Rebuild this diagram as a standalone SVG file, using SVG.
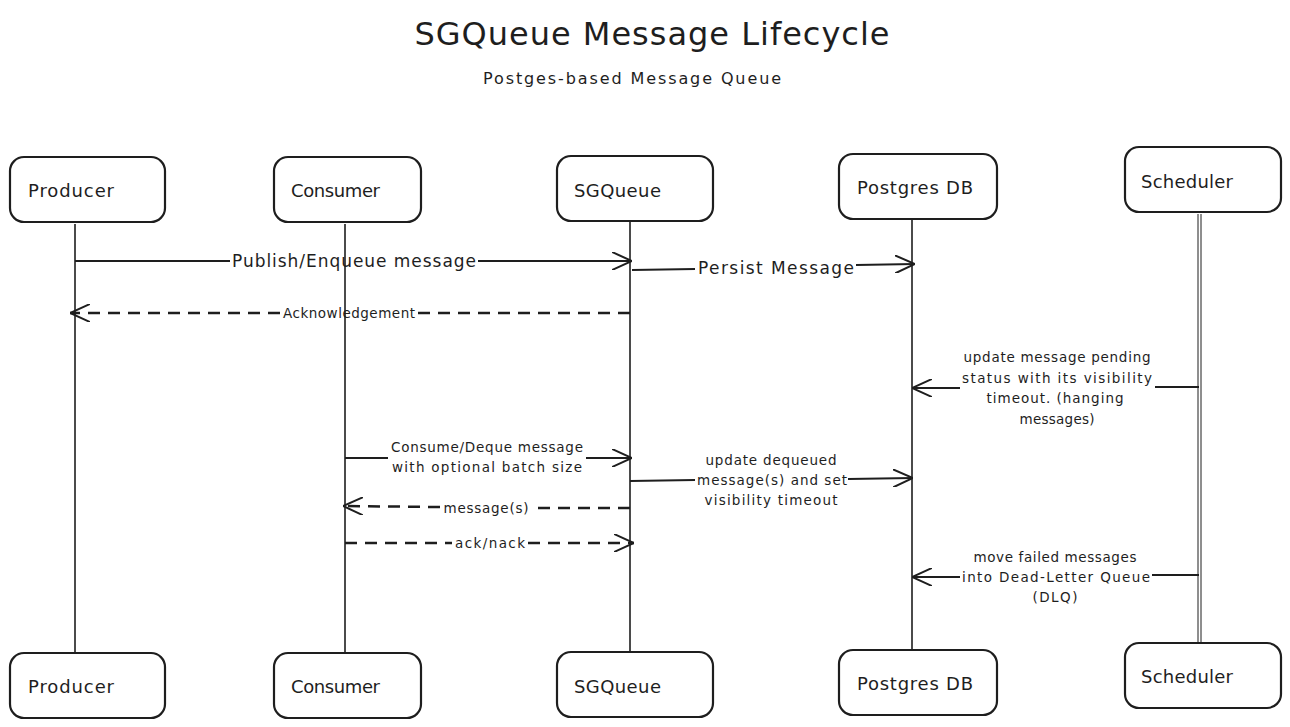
<svg xmlns="http://www.w3.org/2000/svg" width="1290" height="727" viewBox="0 0 1290 727">
<style>
.box{fill:#ffffff;stroke:#1e1e1e;stroke-width:2.2}
.life{stroke:#1e1e1e;stroke-width:1.6;fill:none}
.msg{stroke:#1e1e1e;stroke-width:2;fill:none}
.dash{stroke:#1e1e1e;stroke-width:2.5;fill:none;stroke-dasharray:12 8}
text{font-family:"DejaVu Sans","Liberation Sans",sans-serif;fill:#1e1e1e}
.nl{font-size:18px}
.lb{font-size:17px;text-anchor:middle}
.sm{font-size:13.5px;text-anchor:middle}
</style>
<defs>
<marker id="arr" viewBox="0 0 20 18" refX="20" refY="9" markerWidth="20" markerHeight="18" markerUnits="userSpaceOnUse" orient="auto">
<path d="M0,0 L20,9 L0,18" fill="none" stroke="#1e1e1e" stroke-width="2" stroke-dasharray="none" stroke-linecap="round"/>
</marker>
</defs>
<rect width="1290" height="727" fill="#ffffff"/>
<text x="652" y="45" font-size="32" text-anchor="middle" textLength="475">SGQueue Message Lifecycle</text>
<text x="632" y="84" font-size="16" text-anchor="middle" textLength="298">Postges-based Message Queue</text>

<g id="lifelines">
<line class="life" x1="75" y1="224" x2="75" y2="652"/>
<line class="life" x1="345" y1="224" x2="345" y2="652"/>
<line class="life" x1="630" y1="222" x2="630" y2="651"/>
<line class="life" x1="912" y1="220" x2="912" y2="649"/>
<line class="life" x1="1198" y1="214" x2="1198" y2="645" style="stroke-width:1"/>
<line class="life" x1="1201" y1="214" x2="1201" y2="645" style="stroke-width:1"/>
</g>

<g id="producer-top"><rect class="box" x="10" y="157" width="155" height="65" rx="14"/><text class="nl" x="28" y="197" textLength="86">Producer</text></g>
<g id="consumer-top"><rect class="box" x="274" y="157" width="147" height="65" rx="14"/><text class="nl" x="291" y="197" textLength="89">Consumer</text></g>
<g id="sgqueue-top"><rect class="box" x="557" y="156" width="156" height="65" rx="14"/><text class="nl" x="574" y="197" textLength="87">SGQueue</text></g>
<g id="postgres-top"><rect class="box" x="839" y="154" width="158" height="65" rx="14"/><text class="nl" x="857" y="194" textLength="116">Postgres DB</text></g>
<g id="scheduler-top"><rect class="box" x="1125" y="147" width="156" height="65" rx="14"/><text class="nl" x="1141" y="188" textLength="92">Scheduler</text></g>

<g id="producer-bottom"><rect class="box" x="10" y="653" width="155" height="65" rx="14"/><text class="nl" x="28" y="693" textLength="86">Producer</text></g>
<g id="consumer-bottom"><rect class="box" x="274" y="653" width="147" height="65" rx="14"/><text class="nl" x="291" y="693" textLength="89">Consumer</text></g>
<g id="sgqueue-bottom"><rect class="box" x="557" y="652" width="156" height="65" rx="14"/><text class="nl" x="574" y="693" textLength="87">SGQueue</text></g>
<g id="postgres-bottom"><rect class="box" x="839" y="650" width="158" height="65" rx="14"/><text class="nl" x="857" y="690" textLength="116">Postgres DB</text></g>
<g id="scheduler-bottom"><rect class="box" x="1125" y="643" width="156" height="65" rx="14"/><text class="nl" x="1141" y="683" textLength="92">Scheduler</text></g>

<g id="connectors">
<path class="msg" d="M75,261 L230,261"/>
<path class="msg" d="M478,261 L632,261" marker-end="url(#arr)"/>
<text class="lb" x="354" y="267" textLength="244">Publish/Enqueue message</text>

<path class="msg" d="M632,270 L695,269"/>
<path class="msg" d="M856,265 L915,264" marker-end="url(#arr)"/>
<text class="lb" x="776" y="274" textLength="156">Persist Message</text>

<path class="dash" d="M630,313 L418,313"/>
<path class="dash" d="M280,313 L70,313" marker-end="url(#arr)"/>
<text class="sm" x="349" y="318" textLength="132">Acknowledgement</text>

<path class="msg" d="M1199,387 L1155,387"/>
<path class="msg" d="M960,388 L912,388" marker-end="url(#arr)"/>
<text class="sm" x="1057" y="362" textLength="187">update message pending</text>
<text class="sm" x="1057" y="383" textLength="190">status with its visibility</text>
<text class="sm" x="1055" y="403" textLength="137">timeout. (hanging</text>
<text class="sm" x="1057" y="424" textLength="75">messages)</text>

<path class="msg" d="M345,458 L388,458"/>
<path class="msg" d="M586,458 L632,458" marker-end="url(#arr)"/>
<text class="sm" x="487" y="452" textLength="192">Consume/Deque message</text>
<text class="sm" x="487" y="472" textLength="190">with optional batch size</text>

<path class="msg" d="M630,481 L695,480"/>
<path class="msg" d="M848,479 L913,478" marker-end="url(#arr)"/>
<text class="sm" x="771" y="465" textLength="131">update dequeued</text>
<text class="sm" x="772" y="485" textLength="150">message(s) and set</text>
<text class="sm" x="771" y="505" textLength="133">visibility timeout</text>

<path class="dash" d="M630,508 L532,508"/>
<path class="dash" d="M440,507 L343,506" marker-end="url(#arr)"/>
<text class="sm" x="486" y="513" textLength="85">message(s)</text>

<path class="dash" d="M345,543 L452,543"/>
<path class="dash" d="M528,543 L634,543" marker-end="url(#arr)"/>
<text class="sm" x="490" y="548" textLength="70">ack/nack</text>

<path class="msg" d="M1199,575 L1152,575"/>
<path class="msg" d="M960,577 L912,577" marker-end="url(#arr)"/>
<text class="sm" x="1055" y="562" textLength="163">move failed messages</text>
<text class="sm" x="1056" y="582" textLength="188">into Dead-Letter Queue</text>
<text class="sm" x="1055" y="602" textLength="45">(DLQ)</text>
</g>
</svg>
